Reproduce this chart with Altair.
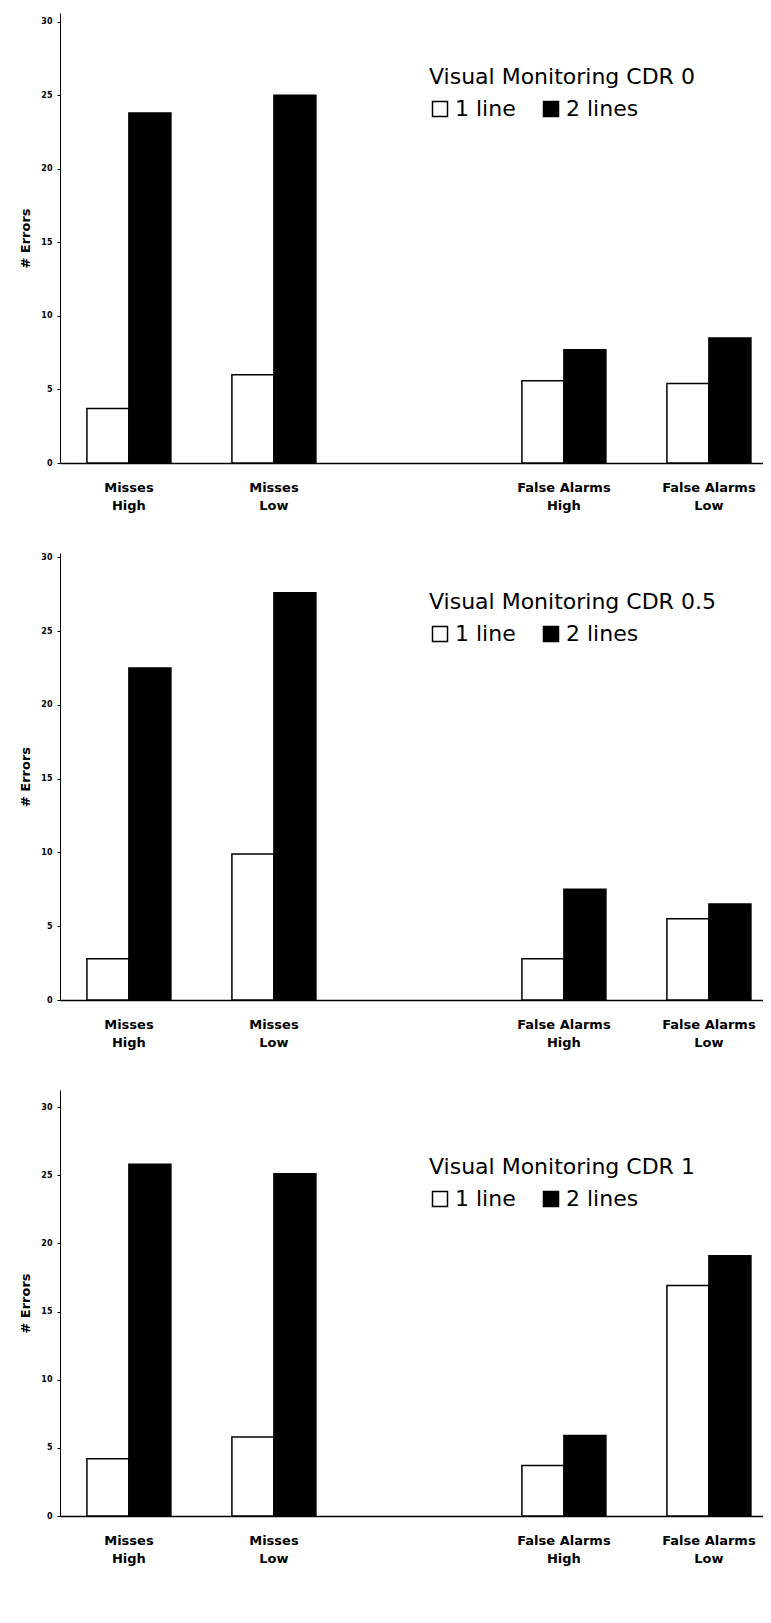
import altair as alt
import pandas as pd

# --- data ---
categories = ["Misses High", "Misses Low", " ", "False Alarms High", "False Alarms Low"]
bar_categories = ["Misses High", "Misses Low", "False Alarms High", "False Alarms Low"]
line_types = ["1 line", "2 lines"]

titles = ["Visual Monitoring CDR 0", "Visual Monitoring CDR 0.5", "Visual Monitoring CDR 1"]

cdr0_one = [3.7, 6.0, 5.6, 5.4]
cdr0_two = [23.8, 25.0, 7.7, 8.5]
cdr05_one = [2.8, 9.9, 2.8, 5.5]
cdr05_two = [22.5, 27.6, 7.5, 6.5]
cdr1_one = [4.2, 5.8, 3.7, 16.9]
cdr1_two = [25.8, 25.1, 5.9, 19.1]

y_ticks = [0, 5, 10, 15, 20, 25, 30]

panels = [
    (titles[0], cdr0_one, cdr0_two, 30.6, 450, 54),
    (titles[1], cdr05_one, cdr05_two, 30.3, 447, 39),
    (titles[2], cdr1_one, cdr1_two, 31.25, 426, 67),
]

PLOT_W = 703


def make_panel(title, ones, twos, ymax, h, leg_y):
    rows = []
    for c, v in zip(bar_categories, ones):
        rows.append({"category": c, "lines": line_types[0], "value": v})
    for c, v in zip(bar_categories, twos):
        rows.append({"category": c, "lines": line_types[1], "value": v})
    df = pd.DataFrame(rows)

    label_expr = (
        "[slice(datum.label, 0, lastindexof(datum.label, ' ')), "
        "slice(datum.label, lastindexof(datum.label, ' ') + 1)]"
    )

    return (
        alt.Chart(df)
        .mark_bar(stroke="black", strokeWidth=1.5)
        .encode(
            x=alt.X(
                "category:N",
                scale=alt.Scale(domain=categories, paddingInner=0.4207,
                                paddingOuter=0.1345, align=0.69),
                axis=alt.Axis(
                    title=None, labelAngle=0, ticks=False, tickSize=0,
                    labelPadding=18, labelExpr=label_expr,
                    labelFont="DejaVu Sans", labelFontWeight="bold",
                    labelFontSize=13, labelLineHeight=18, labelColor="black",
                    domainColor="black", domainWidth=1.5, grid=False,
                    labelLimit=200,
                ),
            ),
            xOffset=alt.XOffset(
                "lines:N",
                scale=alt.Scale(domain=line_types, paddingInner=0, paddingOuter=0),
            ),
            y=alt.Y(
                "value:Q",
                scale=alt.Scale(domain=[0, ymax], nice=False, zero=True),
                axis=alt.Axis(
                    values=y_ticks, title="# Errors", grid=False,
                    tickSize=3, tickColor="black", labelPadding=5,
                    labelFont="DejaVu Sans", labelFontWeight="bold",
                    labelFontSize=8, labelColor="black",
                    titleFont="DejaVu Sans", titleFontWeight="bold",
                    titleFontSize=13, titleColor="black", titlePadding=8,
                    domainColor="black", domainWidth=1,
                ),
            ),
            color=alt.Color(
                "lines:N",
                scale=alt.Scale(domain=line_types, range=["white", "black"]),
                legend=alt.Legend(
                    title=title, orient="none", legendX=369, legendY=leg_y,
                    direction="horizontal", symbolType="square", symbolSize=225,
                    symbolStrokeColor="black", symbolStrokeWidth=1.5,
                    labelFont="DejaVu Sans", labelFontSize=22, labelColor="black",
                    titleFont="DejaVu Sans", titleFontSize=22,
                    titleFontWeight="normal", titleColor="black",
                    titleLimit=380, labelOffset=4, columnPadding=24,
                    titlePadding=9, padding=0,
                ),
            ),
        )
        .properties(width=PLOT_W, height=h)
    )


charts = [make_panel(*p) for p in panels]

chart = (
    alt.vconcat(*charts, spacing=41)
    .resolve_scale(color="independent")
    .resolve_legend(color="independent")
    .properties(padding={"left": 11, "top": 5, "right": 0, "bottom": 5},
                background="white")
    .configure_view(stroke=None)
)

chart.save("out.html", embed_options={"renderer": "svg", "actions": False})
